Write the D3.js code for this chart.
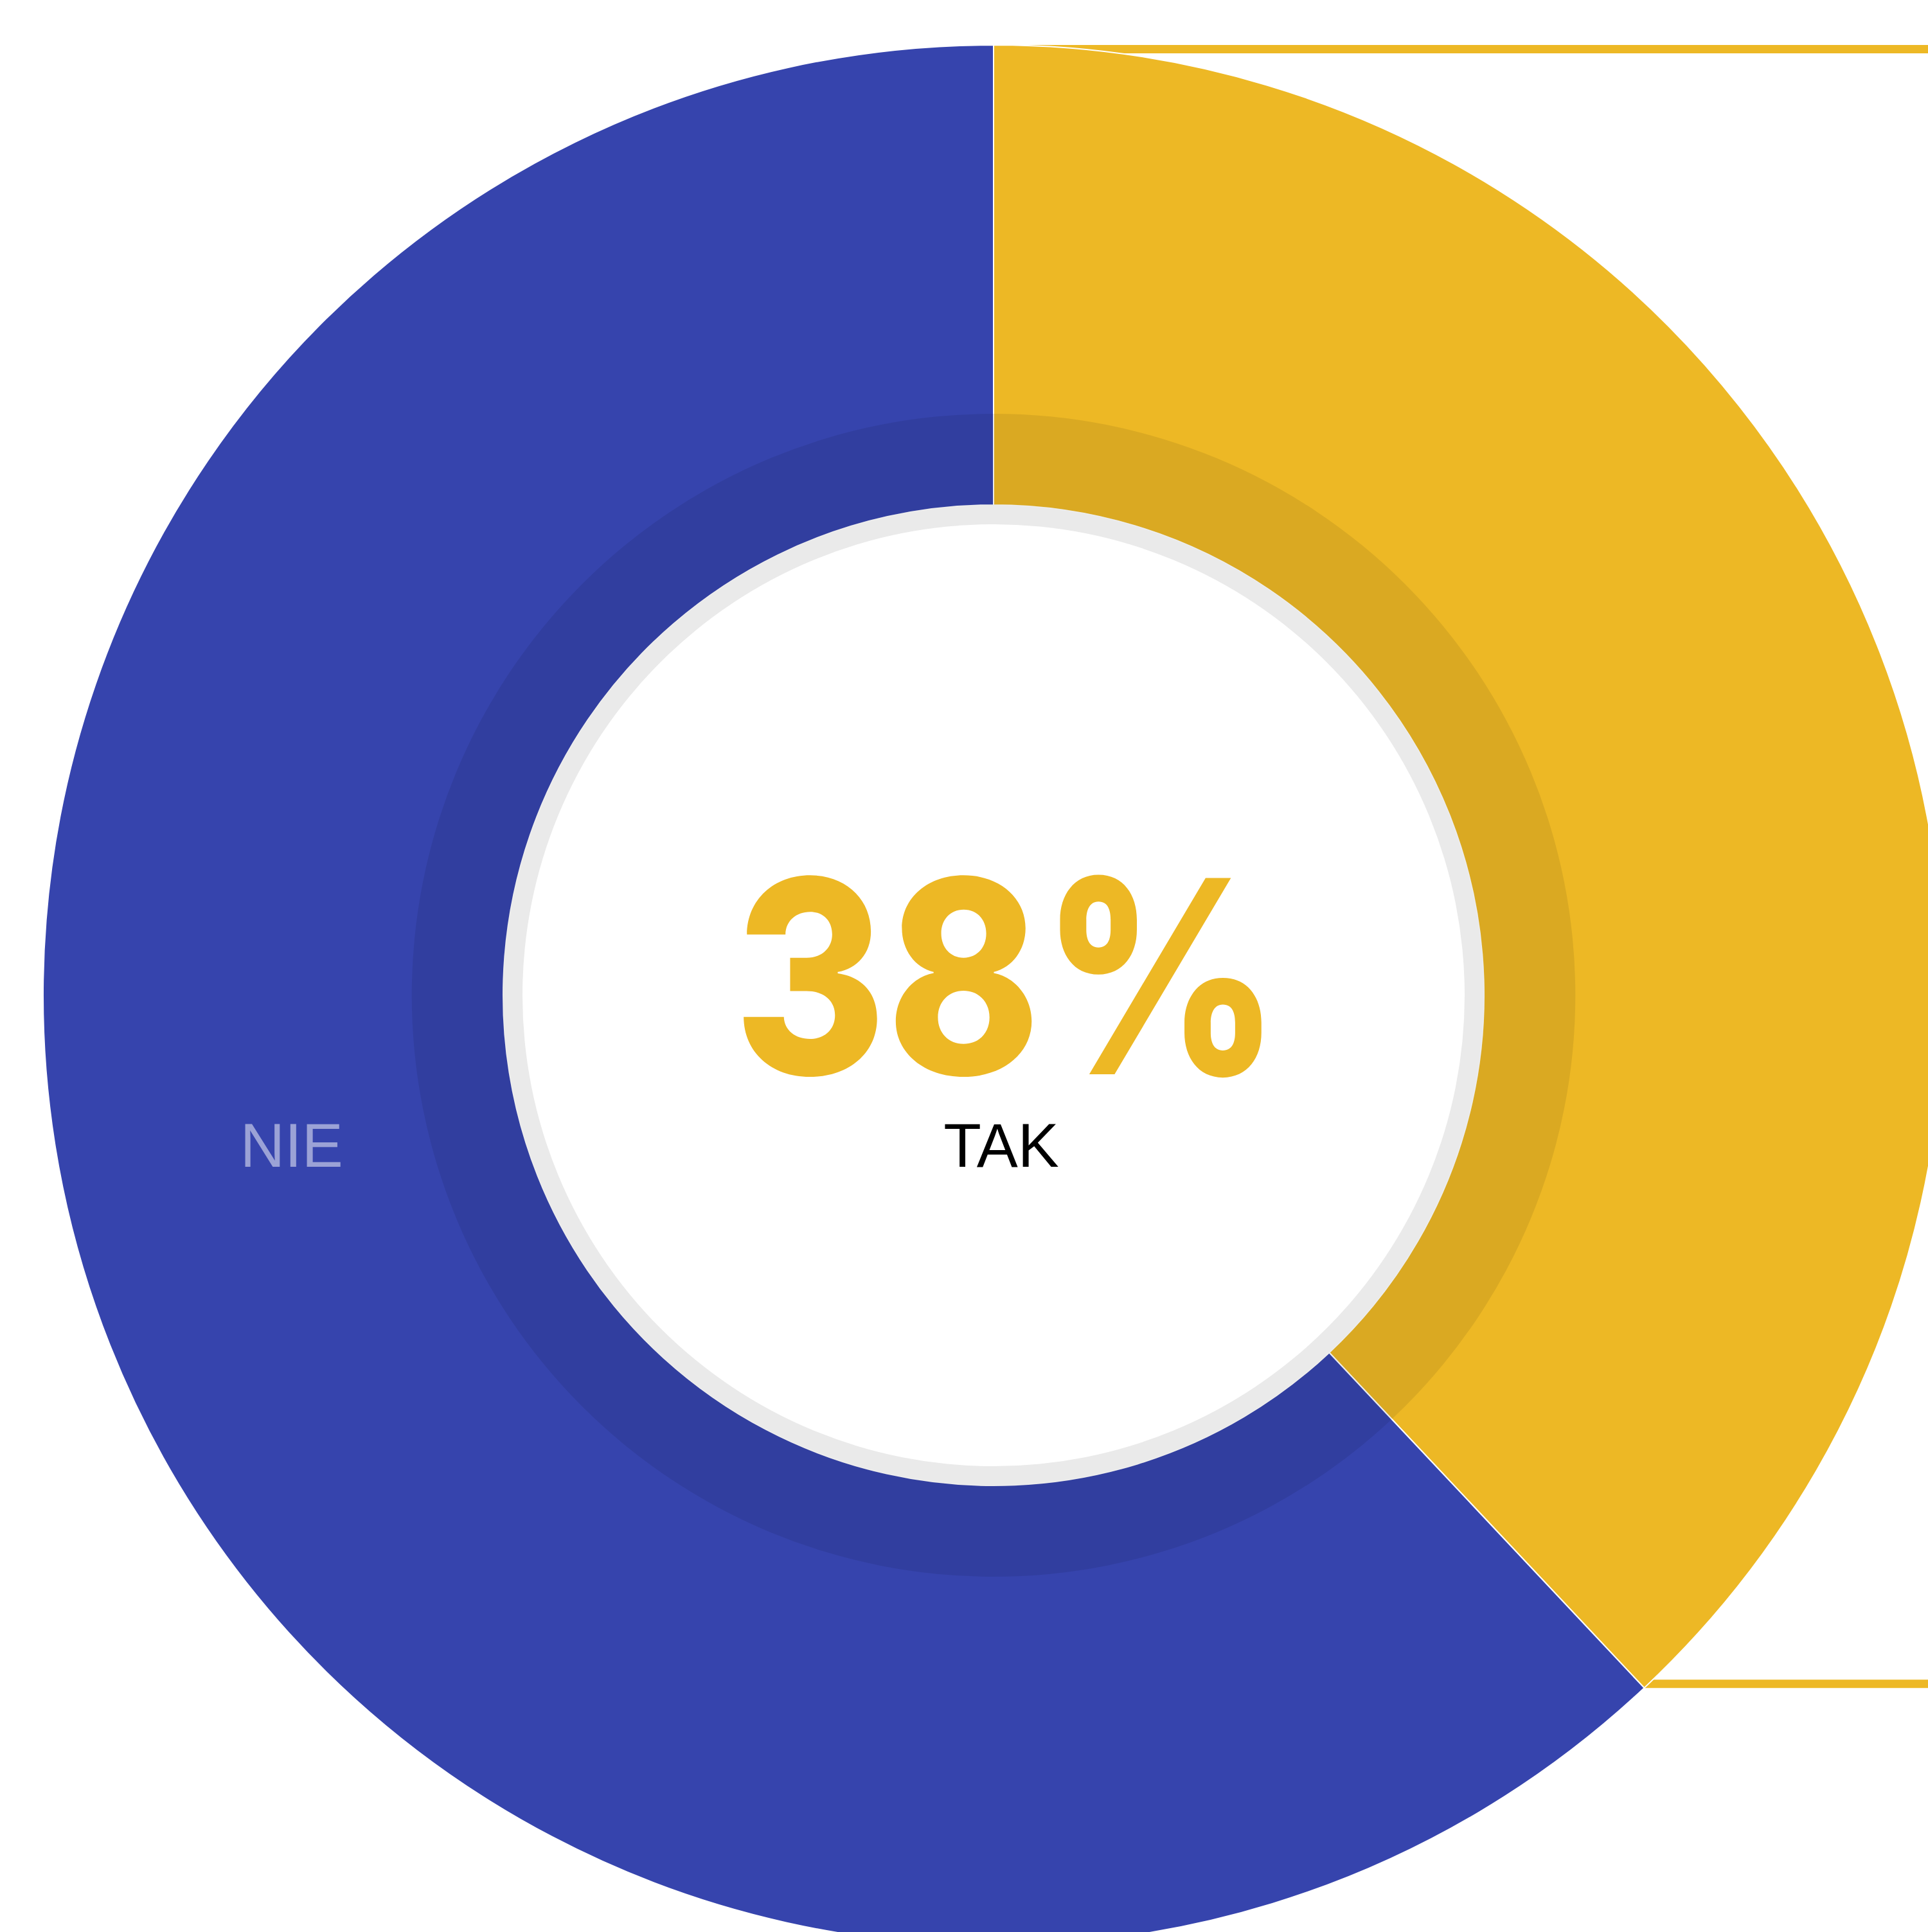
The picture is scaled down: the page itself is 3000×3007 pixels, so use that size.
<!DOCTYPE html>
<html>
<head>
<meta charset="utf-8">
<script src="https://cdn.jsdelivr.net/npm/d3@7"></script>
<style>
  html, body { margin: 0; padding: 0; background: #fff; }
  svg { display: block; }
</style>
</head>
<body>
<div id="chart"></div>
<script>
// dane wykresu
var categories = ["TAK", "NIE"];
var values = [38, 62];
var colorArr = ["#EDB825", "#3644AD"];

var W = 3000, H = 3007;
var cx = 1546, cy = 1549;
var outerR = 1479, innerR = 763;
var shadeR = 905;       // ciemniejszy pas wewnetrzny
var ringW = 30;         // szary pierscien

var svg = d3.select("#chart").append("svg")
    .attr("width", W)
    .attr("height", H);

var g = svg.append("g")
    .attr("transform", "translate(" + cx + "," + cy + ")");

var pie = d3.pie().sort(null).value(function(d) { return d; });
var arcs = pie(values);

var arc = d3.arc().innerRadius(innerR).outerRadius(outerR);

// linie od zaznaczonego wycinka (TAK) w prawo
var sel = arcs[0];
var lw = 13;
[sel.startAngle, sel.endAngle].forEach(function(a, i) {
    var px = outerR * Math.sin(a);
    var py = -outerR * Math.cos(a);
    var off = py < 0 ? lw / 2 : -lw / 2;
    g.append("line")
        .attr("x1", px)
        .attr("x2", W - cx + 10)
        .attr("y1", py + off)
        .attr("y2", py + off)
        .attr("stroke", colorArr[0])
        .attr("stroke-width", lw);
});

g.selectAll(".slice")
    .data(arcs)
    .enter()
    .append("path")
    .attr("class", "slice")
    .attr("d", arc)
    .attr("fill", function(d, i) { return colorArr[i]; })
    .attr("stroke", "#fff")
    .attr("stroke-width", 2);

// ciemniejszy pas przy srodku
g.append("path")
    .attr("d", d3.arc().innerRadius(innerR)
        .outerRadius(shadeR).startAngle(0).endAngle(2 * Math.PI)())
    .attr("fill", "#000")
    .attr("fill-opacity", 0.08);

// szary pierscien i biale kolo
g.append("circle")
    .attr("r", innerR)
    .attr("fill", "#EAEAEA");
g.append("circle")
    .attr("r", innerR - ringW)
    .attr("fill", "#fff");

// tekst w srodku
g.append("text")
    .attr("transform", "translate(21,123) scale(0.862,1)")
    .attr("text-anchor", "middle")
    .style("font-family", "Inter, Roboto, sans-serif")
    .style("font-weight", 800)
    .style("font-size", "420px")
    .attr("fill", colorArr[0])
    .text(Math.round(values[0]) + "%");

g.append("text")
    .attr("x", 12)
    .attr("y", 267)
    .attr("text-anchor", "middle")
    .style("font-family", "'Liberation Sans', Arial, sans-serif")
    .style("font-size", "96px")
    .attr("fill", "#000")
    .text(categories[0]);

// etykieta NIE
g.append("text")
    .attr("x", -(innerR + (outerR - innerR) * 0.46))
    .attr("y", 267)
    .attr("text-anchor", "middle")
    .style("font-family", "'Liberation Sans', Arial, sans-serif")
    .style("font-size", "96px")
    .attr("fill", "#fff")
    .attr("fill-opacity", 0.5)
    .text(categories[1]);
</script>
</body>
</html>
